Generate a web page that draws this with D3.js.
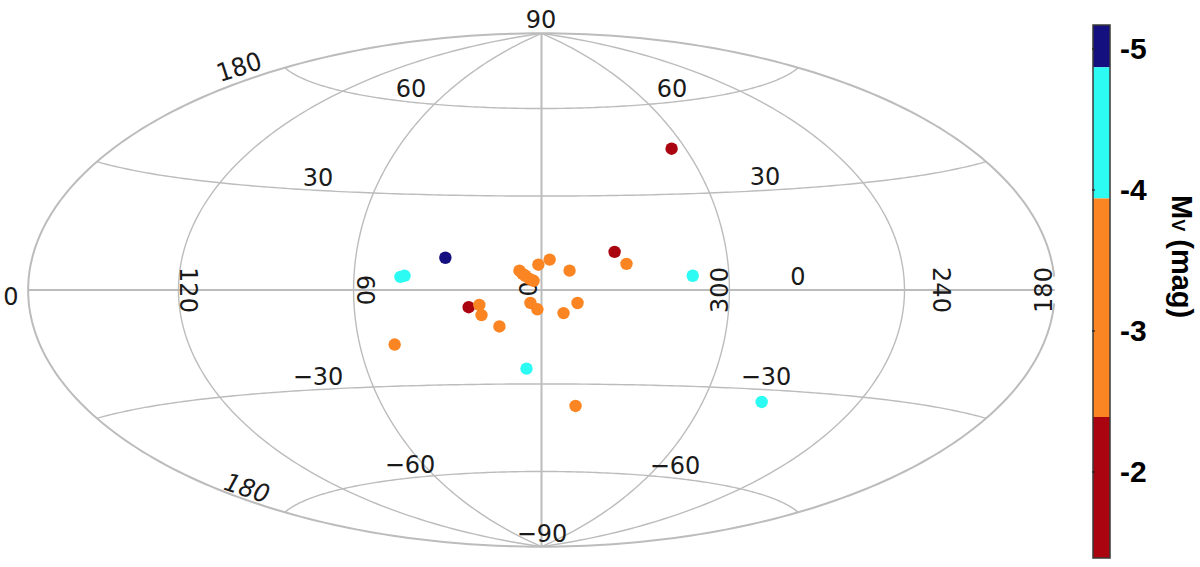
<!DOCTYPE html>
<html>
<head>
<meta charset="utf-8">
<script src="https://cdn.jsdelivr.net/npm/d3@7"></script>
<style>
html,body{margin:0;padding:0;background:#fff;}
svg{display:block;}
</style>
</head>
<body>
<svg id="c" width="1200" height="567"></svg>
<script>
// Galactic longitude of each object (deg)
const glon = [305.8,30.8,44.9,43.6,357.4,1.0,7.0,6.0,5.1,3.8,2.5,351.1,336.5,332.9,311.8,3.5,1.3,348.6,353.0,23.1,19.7,19.1,13.5,48.3,5.1,347.2,277.7];
// Galactic latitude of each object (deg)
const glat = [44.7,10.1,4.05,4.4,9.6,8.0,6.1,5.1,4.5,3.5,2.9,6.1,12.0,8.2,4.4,-4.1,-6.1,-4.1,-7.3,-5.4,-4.7,-7.9,-11.5,-16.9,-25.0,-37.2,-33.8];
// Absolute magnitude class of each object
const mv = [-2,-5,-4,-4,-3,-3,-3,-3,-3,-3,-3,-3,-2,-3,-4,-3,-3,-3,-3,-2,-3,-3,-3,-3,-4,-3,-4];

const meridians = [-120,-60,0,60,120];
const parallels = [-60,-30,30,60];
const cbEdges = [-5.17,-4.87,-3.94,-2.39,-1.39];
const cbColors = ["#14107f","#2cfbf4","#fb8522","#a9040f"];
const cbTicks = [-5,-4,-3,-2];

const gridText = ["90","60","60","30","30","180","0","120","60","0","300","0","240","180","-30","-30","-60","-60","-90","180"];
const gridX = [541,411,672,318,765,239,11,189,366,528,719,798,942,1043,318,766,410,675,542,247];
const gridY = [19,88,88,177,176,67,296,290,290,289,290,276,290,290,376,376,464,465,533,488];
const gridRot = [0,0,0,0,0,-18,0,90,90,90,-90,0,90,-90,0,0,0,0,0,18];

function hammerRaw(lambda, phi){
  const k = Math.sqrt(1 + Math.cos(phi) * Math.cos(lambda / 2));
  return [2 * Math.SQRT2 * Math.cos(phi) * Math.sin(lambda / 2) / k, Math.SQRT2 * Math.sin(phi) / k];
}
const projection = d3.geoProjection(hammerRaw).scale(181.5).translate([541.5,290]);

const svg = d3.select("#c");
const line = d3.line();
const grid = svg.append("g").attr("fill","none").attr("stroke","#bcbcbc");

const lats = d3.range(-90,90.01,1);
const lons = d3.range(-180,180.01,2);

meridians.forEach(m=>{
  grid.append("path").attr("stroke-width",m===0?2:1.4).attr("d",line(lats.map(b=>projection([m,b]))));
});
parallels.forEach(p=>{
  const lo = lons.map(l=>projection([l,p]));
  grid.append("path").attr("stroke-width",1.4).attr("d",line(lo));
});
grid.append("path").attr("stroke-width",2).attr("d",line(lons.map(l=>projection([l,0]))));
// outer boundary: right limb whole, left limb broken at the equator
grid.append("path").attr("stroke-width",2).attr("d",line(lats.map(b=>projection([-179.999,b]))));
grid.append("path").attr("stroke-width",2).attr("d",line(lats.filter(b=>b>=3).map(b=>projection([179.999,b]))));
grid.append("path").attr("stroke-width",2).attr("d",line(lats.filter(b=>b<=-3).map(b=>projection([179.999,b]))));

svg.append("g").selectAll("text").data(gridText).join("text")
  .attr("transform",(d,i)=>`translate(${gridX[i]},${gridY[i]}) rotate(${gridRot[i]}) scale(1,1.05)`)
  .attr("text-anchor","middle").attr("dominant-baseline","central")
  .attr("font-family","'DejaVu Sans'").attr("font-size",24).attr("fill","#1a1a1a")
  .attr("font-style",(d,i)=>i===19?"italic":"normal")
  .text(d=>d.replace("-","\u2212"));

// Colour bar
const cb = d3.scaleLinear().domain([-5.17,-1.39]).range([25,558]);
const color = d3.scaleOrdinal().domain(cbTicks).range(cbColors);
const cbX = 1093, cbW = 17;
svg.append("g").selectAll("rect").data(cbColors).join("rect")
  .attr("x",cbX).attr("width",cbW)
  .attr("y",(d,i)=>cb(cbEdges[i]))
  .attr("height",(d,i)=>cb(cbEdges[i+1])-cb(cbEdges[i]))
  .attr("fill",d=>d);
svg.append("rect").attr("x",cbX).attr("y",cb(cbEdges[0])).attr("width",cbW)
  .attr("height",cb(cbEdges[4])-cb(cbEdges[0])).attr("fill","none").attr("stroke","#3a3a3a").attr("stroke-width",1.5);

const axis = d3.axisRight(cb).tickValues(cbTicks).tickSize(0).tickPadding(0).tickFormat(d=>String(d));
const ag = svg.append("g").attr("transform",`translate(1120,0)`).call(axis);
ag.select(".domain").remove();
ag.selectAll("text").attr("font-family","'Liberation Sans'").attr("font-weight","bold")
  .style("font-size","30px").attr("fill","#000").attr("x",0);
svg.append("g").selectAll("line").data(cbTicks).join("line")
  .attr("x1",cbX-1).attr("x2",cbX+2).attr("y1",d=>cb(d)).attr("y2",d=>cb(d))
  .attr("stroke","#222").attr("stroke-width",1.2);

const title = svg.append("text").attr("transform","translate(1172,195) rotate(90)")
  .attr("font-family","'Liberation Sans'").attr("font-weight","bold").attr("font-size",29).attr("fill","#000");
title.append("tspan").text("M");
title.append("tspan").attr("font-size",18).text("V");
title.append("tspan").text(" (mag)");

// Objects (longitude grows to the left)
svg.append("g").selectAll("circle").data(d3.range(glon.length)).join("circle")
  .sort((a,b)=>(mv[a]===-3?1:0)-(mv[b]===-3?1:0))
  .attr("cx",i=>projection([glon[i]>180?360-glon[i]:-glon[i],glat[i]])[0])
  .attr("cy",i=>projection([glon[i]>180?360-glon[i]:-glon[i],glat[i]])[1])
  .attr("r",6.2)
  .attr("fill",i=>color(mv[i]));
</script>
</body>
</html>
